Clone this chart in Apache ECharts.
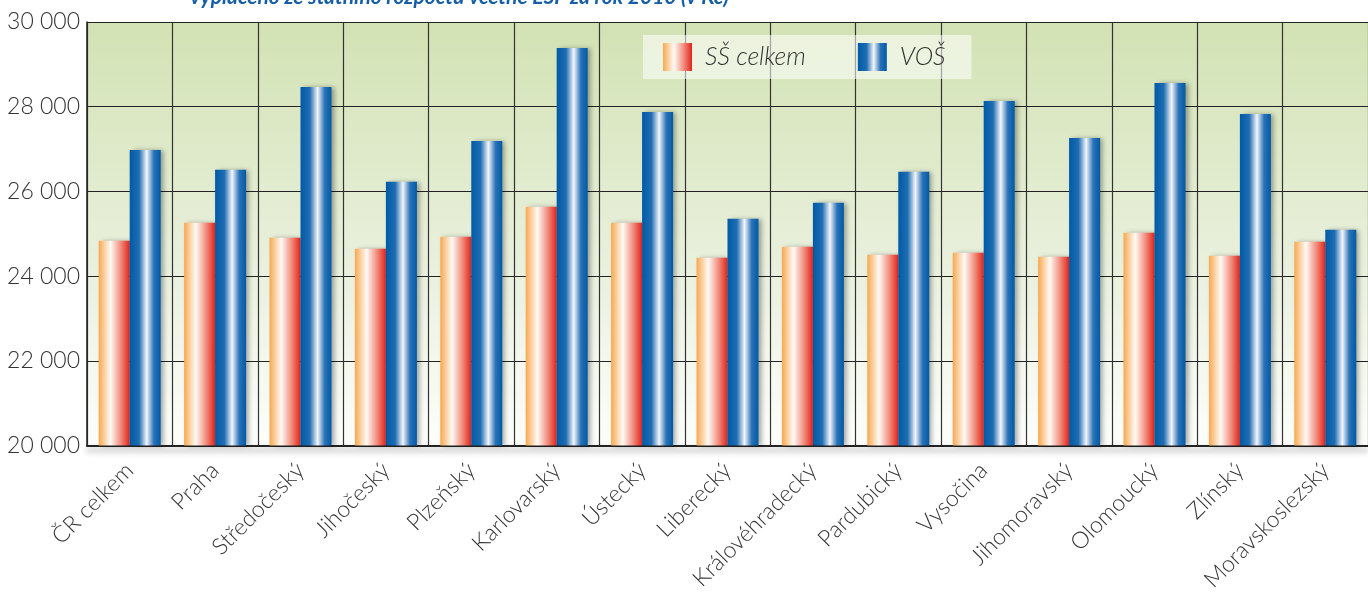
<!DOCTYPE html>
<html>
<head>
<meta charset="utf-8">
<script src="https://cdn.jsdelivr.net/npm/echarts@6/dist/echarts.min.js"></script>
<style>
html,body{margin:0;padding:0;background:#fff;}
#c{width:1368px;height:594px;}
</style>
</head>
<body>
<div id="c"></div>
<script>
var categories = ['ČR celkem','Praha','Středočeský','Jihočeský','Plzeňský','Karlovarský','Ústecký','Liberecký','Královéhradecký','Pardubický','Vysočina','Jihomoravský','Olomoucký','Zlínský','Moravskoslezský'];
var seriesNames = ['SŠ celkem','VOŠ'];
var ssValues = [24835,25260,24905,24646,24929,25637,25260,24434,24693,24505,24552,24458,25024,24481,24811];
var vosValues = [26981,26510,28467,26226,27193,29387,27877,25354,25731,26462,28137,27264,28561,27830,25094];
var titleText = 'vyplaceno ze státního rozpočtu včetně ESF za rok 2010 (v Kč)';

var font = 'Lato, "Open Sans", sans-serif';
function grad(stops){
  return new echarts.graphic.LinearGradient(0,0,1,0,stops);
}
var ssColor = grad([{offset:0,color:'#f8a84f'},{offset:0.38,color:'#fffaf5'},{offset:0.72,color:'#f08a7a'},{offset:1,color:'#e2231a'}]);
var vosColor = grad([{offset:0,color:'#005aa6'},{offset:0.3,color:'#1f6db2'},{offset:0.55,color:'#f4f6fb'},{offset:0.78,color:'#2a72b6'},{offset:1,color:'#005aa6'}]);

var chart = echarts.init(document.getElementById('c'));
chart.setOption({
  animation:false,
  backgroundColor:'#ffffff',
  graphic:[{
    type:'text', left:190, top:-13,
    style:{text:titleText, fill:'#165ea6', font:'italic bold 21px '+font}
  }],
  legend:{
    left:643, top:35, width:340,
    backgroundColor:'rgba(255,255,255,0.55)',
    padding:[8,26,8,20],
    icon:'rect',
    itemWidth:29, itemHeight:28, itemGap:52,
    textStyle:{fontFamily:font, fontWeight:300, fontSize:25, fontStyle:'italic', color:'#333', padding:[0,0,0,8]},
    data:seriesNames
  },
  grid:{left:87, top:22, bottom:148, width:1288, show:true, borderWidth:0,
    backgroundColor:new echarts.graphic.LinearGradient(0,0,0,1,[{offset:0,color:'#d2e2b3'},{offset:0.6,color:'#eaf1df'},{offset:1,color:'#fdfefb'}])
  },
  xAxis:{
    type:'category', data:categories,
    axisLine:{lineStyle:{color:'#222', width:2, shadowColor:'rgba(0,0,0,0.45)', shadowBlur:6, shadowOffsetY:4}},
    axisTick:{show:false},
    splitLine:{show:true, lineStyle:{color:'#333', width:1.2}},
    axisLabel:{rotate:45, fontFamily:font, fontWeight:300, fontSize:23, color:'#333', margin:21, interval:0}
  },
  yAxis:{
    type:'value', min:20000, max:30000, interval:2000,
    axisLine:{show:true, lineStyle:{color:'#222', width:1.5}},
    axisTick:{show:false},
    splitLine:{show:true, lineStyle:{color:'#222', width:1.2}},
    axisLabel:{fontFamily:font, fontWeight:300, fontSize:23, color:'#333', margin:7,
      formatter:function(v){return String(v).replace(/\B(?=(\d{3})+(?!\d))/g,' ');}}
  },
  series:[
    {name:seriesNames[0], type:'bar', data:ssValues, barWidth:31, barGap:'0%',
      itemStyle:{color:ssColor, shadowColor:'rgba(0,0,0,0.35)', shadowBlur:5, shadowOffsetX:3, shadowOffsetY:0}},
    {name:seriesNames[1], type:'bar', data:vosValues, barWidth:31, barGap:'0%',
      itemStyle:{color:vosColor, shadowColor:'rgba(0,0,0,0.35)', shadowBlur:5, shadowOffsetX:3, shadowOffsetY:0}}
  ]
});
</script>
</body>
</html>
